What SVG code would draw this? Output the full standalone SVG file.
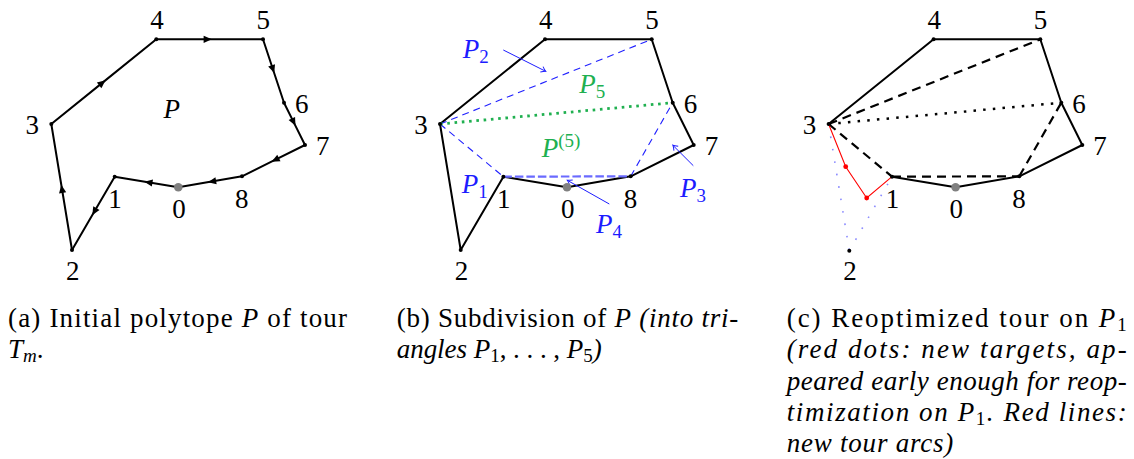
<svg xmlns="http://www.w3.org/2000/svg" width="1134" height="459" viewBox="0 0 1134 459">
<style>
 text{font-family:"Liberation Serif","Times New Roman",serif;font-size:27px;fill:#000}
 .it{font-style:italic}
 .up{font-style:normal}
 .lbl{text-anchor:middle}
 .sub{font-size:19px}
 .edge{fill:none;stroke:#000;stroke-width:2;stroke-linejoin:round;stroke-linecap:round}
 .arr{fill:none;stroke:#000;stroke-width:2;stroke-linecap:round;marker-mid:url(#mid)}
 .v{fill:#000}
 .v0{fill:#808080}
 .bd{fill:none;stroke:#2020ff;stroke-width:1.1;stroke-dasharray:7 5}
 .bd2{fill:none;stroke:#6a6aff;stroke-width:2.2;stroke-dasharray:8.5 3}
 .gd{fill:none;stroke:#20b050;stroke-width:2.8;stroke-dasharray:2.6 4.7}
 .kd{fill:none;stroke:#000;stroke-width:2.2;stroke-dasharray:9 6}
 .kdot{fill:none;stroke:#000;stroke-width:2.5;stroke-dasharray:2.5 7.2}
 .bdot{fill:none;stroke:#8a8aff;stroke-width:1.6;stroke-dasharray:1.6 11}
 .red{fill:none;stroke:#ff0000;stroke-width:1.1}
 .ptr{fill:none;stroke:#1c1cff;stroke-width:1;marker-end:url(#open)}
 .blue{fill:#1c1cff}
 .green{fill:#20b050}
</style>
<defs>
 <marker id="mid" markerUnits="userSpaceOnUse" orient="auto" markerWidth="18" markerHeight="18" viewBox="-9 -9 18 18" refX="0" refY="0">
  <path d="M-6,-3.6 L2.2,0 L-6,3.6 z" fill="#000"/>
 </marker>
 <marker id="open" markerUnits="userSpaceOnUse" orient="auto" markerWidth="14" markerHeight="14" viewBox="-7 -7 14 14" refX="0" refY="0">
  <path d="M-4.5,-3 Q-1.5,-0.6 0,0 Q-1.5,0.6 -4.5,3" fill="none" stroke="#1c1cff" stroke-width="1"/>
 </marker>
</defs>

<!-- Panel (a) -->
<g id="panel-a">
 <g id="a-connectors">
  <path class="arr" d="M178.3,187.3 L146.5,182 L114.7,176.7"/>
  <path class="arr" d="M114.7,176.7 L93.35,213.35 L72,250"/>
  <path class="arr" d="M72,250 L61.65,187 L51.3,124"/>
  <path class="arr" d="M51.3,124 L103.8,81.65 L156.3,39.3"/>
  <path class="arr" d="M156.3,39.3 L209.65,39.3 L263,39.3"/>
  <path class="arr" d="M263,39.3 L273.5,71 L284,102.7"/>
  <path class="arr" d="M284,102.7 L294.5,123.85 L305,145"/>
  <path class="arr" d="M305,145 L273.5,160.65 L242,176.3"/>
  <path class="arr" d="M242,176.3 L210.15,181.8 L178.3,187.3"/>
 </g>
 <g id="a-n0"><circle class="v0" cx="178.3" cy="187.3" r="4.3"/><text class="lbl" x="179" y="218">0</text></g>
 <g id="a-n1"><circle class="v" cx="114.7" cy="176.7" r="2"/><text class="lbl" x="115" y="207.5">1</text></g>
 <g id="a-n2"><circle class="v" cx="72" cy="250" r="2"/><text class="lbl" x="72.7" y="279.5">2</text></g>
 <g id="a-n3"><circle class="v" cx="51.3" cy="124" r="2"/><text class="lbl" x="32.3" y="134.3">3</text></g>
 <g id="a-n4"><circle class="v" cx="156.3" cy="39.3" r="2"/><text class="lbl" x="157" y="29.3">4</text></g>
 <g id="a-n5"><circle class="v" cx="263" cy="39.3" r="2"/><text class="lbl" x="263.3" y="29">5</text></g>
 <g id="a-n6"><circle class="v" cx="284" cy="102.7" r="2"/><text class="lbl" x="301.7" y="112.7">6</text></g>
 <g id="a-n7"><circle class="v" cx="305" cy="145" r="2"/><text class="lbl" x="322.7" y="155">7</text></g>
 <g id="a-n8"><circle class="v" cx="242" cy="176.3" r="2"/><text class="lbl" x="241.7" y="208.3">8</text></g>
 <g id="a-P"><text class="it" x="163.5" y="117.7">P</text></g>
</g>

<!-- Panel (b) -->
<g id="panel-b">
 <g id="b-connectors">
  <path class="edge" d="M567,187.3 L503.4,176.7 L460.7,250 L440,124 L545,39.3 L651.7,39.3 L672.7,102.7 L693.7,145 L630.7,176.3 Z"/>
  <path class="bd" d="M440,124 L651.7,39.3"/>
  <path class="bd" d="M440,124 L503.4,176.7"/>
  <path class="bd" d="M630.7,176.3 L672.7,102.7"/>
  <path class="bd2" d="M503.4,176.7 L630.7,176.3"/>
  <path class="gd" d="M440,124 L672.7,102.7"/>
  <path class="ptr" d="M503.3,50 L545.7,71.3"/>
  <path class="ptr" d="M609.3,204 L567.3,180.3"/>
  <path class="ptr" d="M693.3,165.7 L672.9,145.3"/>
 </g>
 <g id="b-n0"><circle class="v0" cx="567" cy="187.3" r="4.3"/><text class="lbl" x="567.7" y="218">0</text></g>
 <g id="b-n1"><circle class="v" cx="503.4" cy="176.7" r="2"/><text class="lbl" x="503.7" y="207.5">1</text></g>
 <g id="b-n2"><circle class="v" cx="460.7" cy="250" r="2"/><text class="lbl" x="461.4" y="279.5">2</text></g>
 <g id="b-n3"><circle class="v" cx="440" cy="124" r="2"/><text class="lbl" x="421" y="134.3">3</text></g>
 <g id="b-n4"><circle class="v" cx="545" cy="39.3" r="2"/><text class="lbl" x="545.7" y="29.3">4</text></g>
 <g id="b-n5"><circle class="v" cx="651.7" cy="39.3" r="2"/><text class="lbl" x="652" y="29">5</text></g>
 <g id="b-n6"><circle class="v" cx="672.7" cy="102.7" r="2"/><text class="lbl" x="690.4" y="112.7">6</text></g>
 <g id="b-n7"><circle class="v" cx="693.7" cy="145" r="2"/><text class="lbl" x="711.4" y="155">7</text></g>
 <g id="b-n8"><circle class="v" cx="630.7" cy="176.3" r="2"/><text class="lbl" x="630.4" y="208.3">8</text></g>
 <g id="b-P1"><text class="it blue" x="461.7" y="193.3">P<tspan class="sub up" dy="5">1</tspan></text></g>
 <g id="b-P2"><text class="it blue" x="462.7" y="58.3">P<tspan class="sub up" dy="5">2</tspan></text></g>
 <g id="b-P3"><text class="it blue" x="680" y="196.7">P<tspan class="sub up" dy="5">3</tspan></text></g>
 <g id="b-P4"><text class="it blue" x="596" y="233">P<tspan class="sub up" dy="5">4</tspan></text></g>
 <g id="b-P5"><text class="it green" x="579.3" y="93.3">P<tspan class="sub up" dy="5">5</tspan></text></g>
 <g id="b-Psup"><text class="it green" x="541.7" y="156.7">P<tspan class="sub up" dy="-10">(5)</tspan></text></g>
</g>

<!-- Panel (c) -->
<g id="panel-c">
 <g id="c-connectors">
  <path class="edge" d="M828.6,124 L933.6,39.3 L1040.3,39.3 L1061.3,102.7 L1082.3,145 L1019.3,176.3 L955.6,187.3 L892,176.7"/>
  <path class="kd" d="M828.6,124 L1040.3,39.3"/>
  <path class="kd" d="M828.6,124 L892,176.7"/>
  <path class="kd" d="M892,176.7 L1019.3,176.3"/>
  <path class="kd" d="M1019.3,176.3 L1061.3,102.7"/>
  <path class="kdot" d="M828.6,124 L1061.3,102.7"/>
  <path class="bdot" d="M828.6,124 L849.3,250.7"/>
  <path class="bdot" d="M849.3,250.7 L892,176.7"/>
  <path class="red" d="M828.6,124 L845.7,166.7 L866.7,198 L892,176.7"/>
 </g>
 <g id="c-n0"><circle class="v0" cx="955.6" cy="187.3" r="4.3"/><text class="lbl" x="956.3" y="218">0</text></g>
 <g id="c-n1"><circle class="v" cx="892" cy="176.7" r="2"/><text class="lbl" x="892.5" y="207.5">1</text></g>
 <g id="c-n2"><circle class="v" cx="849.3" cy="250.7" r="2"/><text class="lbl" x="850" y="279.5">2</text></g>
 <g id="c-n3"><circle class="v" cx="828.6" cy="124" r="2"/><text class="lbl" x="809.6" y="134.3">3</text></g>
 <g id="c-n4"><circle class="v" cx="933.6" cy="39.3" r="2"/><text class="lbl" x="934.3" y="29.3">4</text></g>
 <g id="c-n5"><circle class="v" cx="1040.3" cy="39.3" r="2"/><text class="lbl" x="1040.6" y="29">5</text></g>
 <g id="c-n6"><circle class="v" cx="1061.3" cy="102.7" r="2"/><text class="lbl" x="1079" y="112.7">6</text></g>
 <g id="c-n7"><circle class="v" cx="1082.3" cy="145" r="2"/><text class="lbl" x="1100" y="155">7</text></g>
 <g id="c-n8"><circle class="v" cx="1019.3" cy="176.3" r="2"/><text class="lbl" x="1019" y="208.3">8</text></g>
 <g id="c-r1"><circle fill="#ff0000" cx="845.7" cy="166.7" r="2.4"/></g>
 <g id="c-r2"><circle fill="#ff0000" cx="866.7" cy="198" r="2.4"/></g>
</g>

<!-- Captions -->
<g id="caption-a">
 <text x="8" y="327" textLength="339" lengthAdjust="spacing">(a) Initial polytope <tspan class="it">P</tspan> of tour</text>
 <text x="8" y="358"><tspan class="it">T</tspan><tspan class="it sub" dy="4">m</tspan><tspan dy="-4">.</tspan></text>
</g>
<g id="caption-b">
 <text x="396.7" y="327" textLength="341.6" lengthAdjust="spacing">(b) Subdivision of <tspan class="it">P</tspan> <tspan class="it">(into tri-</tspan></text>
 <text x="396.7" y="358" textLength="205" lengthAdjust="spacing"><tspan class="it">angles P</tspan><tspan class="sub" dy="4">1</tspan><tspan dy="-4">, . . . , </tspan><tspan class="it">P</tspan><tspan class="sub" dy="4">5</tspan><tspan class="it" dy="-4">)</tspan></text>
</g>
<g id="caption-c">
 <text x="786.7" y="327" textLength="340" lengthAdjust="spacing">(c) Reoptimized tour on <tspan class="it">P</tspan><tspan class="sub" dy="4">1</tspan></text>
 <text class="it" x="786.7" y="358.3" textLength="340" lengthAdjust="spacing">(red dots:  new targets, ap-</text>
 <text class="it" x="786.7" y="389.6" textLength="340" lengthAdjust="spacing">peared early enough for reop-</text>
 <text class="it" x="786.7" y="421" textLength="340" lengthAdjust="spacing">timization on P<tspan class="sub up" dy="4">1</tspan><tspan dy="-4">.  Red lines:</tspan></text>
 <text class="it" x="786.7" y="452.3" textLength="166.6" lengthAdjust="spacing">new tour arcs)</text>
</g>
</svg>
